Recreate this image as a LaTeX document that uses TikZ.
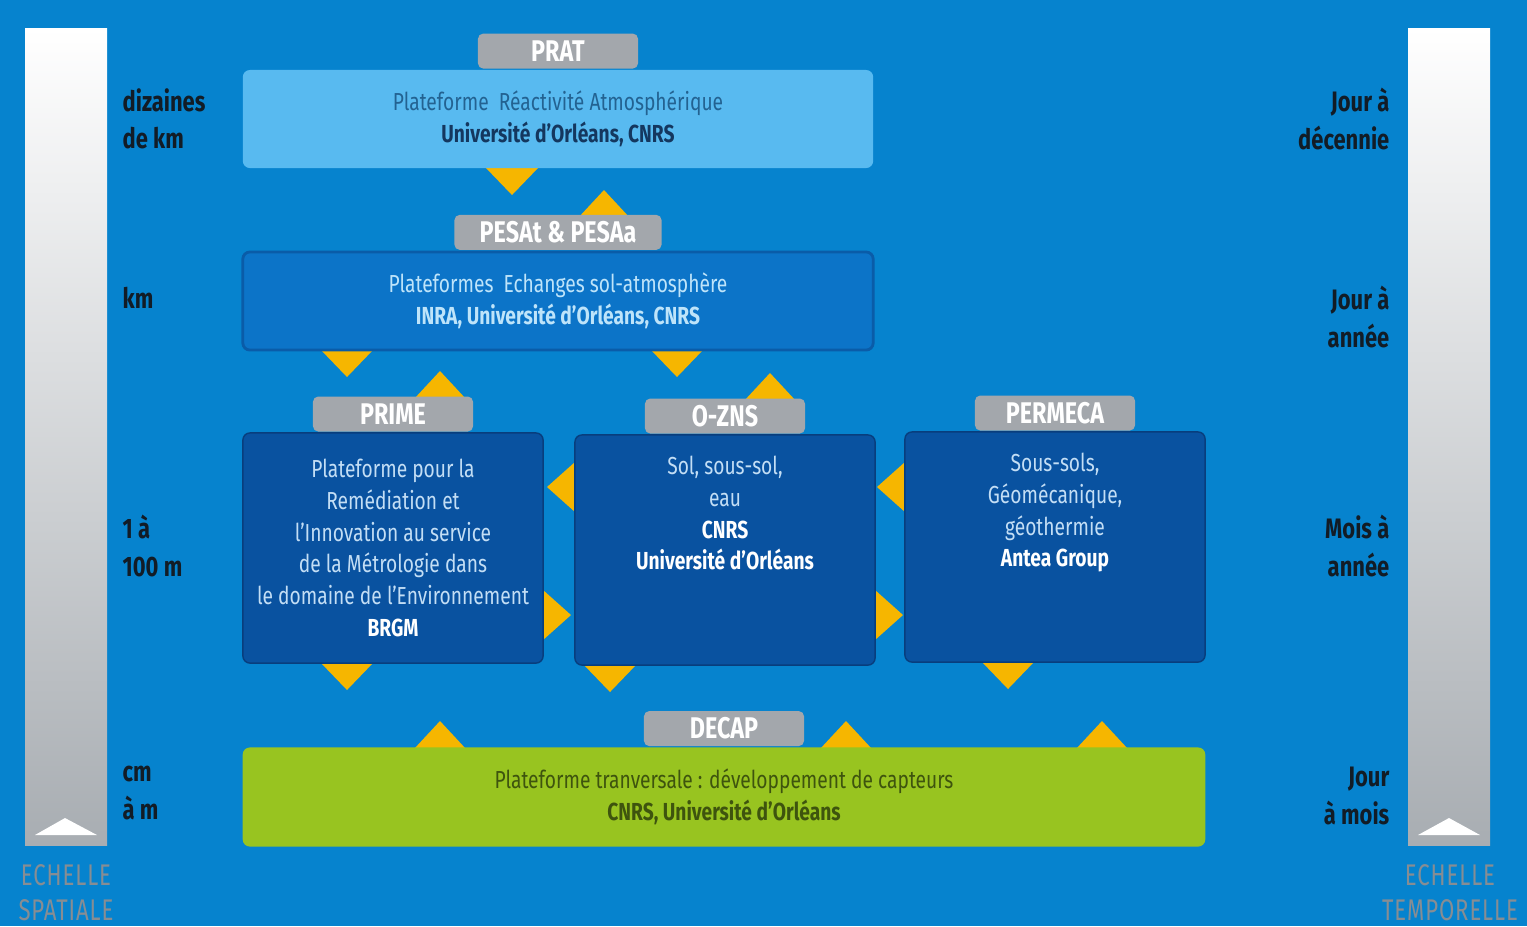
\documentclass[tikz,border=0pt]{standalone}
\usepackage{fontspec}
\setmainfont[FakeStretch=0.78]{Fira Sans}
\newfontfamily\echellefont[FakeStretch=0.74, LetterSpace=3]{Fira Sans}
\usetikzlibrary{positioning}

\definecolor{fond}{RGB}{6,131,206}
\definecolor{bleuclair}{RGB}{88,186,240}
\definecolor{bleumoyen}{RGB}{12,116,200}
\definecolor{bleutrait}{RGB}{10,92,168}
\definecolor{bleufonce}{RGB}{9,82,160}
\definecolor{bleunuit}{RGB}{8,62,125}
\definecolor{vert}{RGB}{152,196,32}
\definecolor{gris}{RGB}{163,167,172}
\definecolor{fleche}{RGB}{246,182,0}
\definecolor{barremid}{RGB}{225,229,234}
\definecolor{barregris}{RGB}{168,173,178}
\definecolor{grisechelle}{RGB}{135,141,147}
\definecolor{encre}{RGB}{18,28,38}
\definecolor{textprat}{RGB}{35,98,145}
\definecolor{textprat2}{RGB}{20,55,95}
\definecolor{textpesat}{RGB}{190,228,250}
\definecolor{textfonce}{RGB}{195,222,245}
\definecolor{textvert}{RGB}{62,84,14}

\newcommand{\textebox}{\fontsize{7}{9}\selectfont}
\newcommand{\texteonglet}{\fontsize{8.5}{9}\selectfont\bfseries}
\newcommand{\texteside}{\fontsize{8}{10.7}\selectfont\bfseries}

% petits triangles oranges
\newcommand{\flecheBas}[2]{\fill[tri] (#1-26,#2) -- (#1+26,#2) -- (#1,#2+27) -- cycle;}
\newcommand{\flecheHaut}[2]{\fill[tri] (#1-26,#2) -- (#1+26,#2) -- (#1,#2-28) -- cycle;}
\newcommand{\flecheGauche}[2]{\fill[tri] (#1,#2-25) -- (#1,#2+25) -- (#1-28,#2) -- cycle;}
\newcommand{\flecheDroite}[2]{\fill[tri] (#1,#2-25) -- (#1,#2+25) -- (#1+28,#2) -- cycle;}

\begin{document}
\begin{tikzpicture}[x=0.01cm, y=-0.01cm,
  boite/.style={rounded corners=2pt, align=center, inner sep=0pt, font=\textebox},
  onglet/.style={fill=gris, rounded corners=1.5pt, inner sep=0pt, minimum width=1.6cm,
    minimum height=0.35cm, font=\texteonglet, text=white},
  tri/.style={fill=fleche},
  gauche/.style={anchor=west, align=left, inner sep=0pt, font=\texteside, text=encre},
  droite/.style={anchor=east, align=right, inner sep=0pt, font=\texteside, text=encre},
  echelle/.style={align=center, inner sep=0pt, font=\fontsize{8.5}{10}\selectfont\echellefont,
    text=grisechelle}]

\fill[fond] (0,0) rectangle (1527,926);
\useasboundingbox (0,0) rectangle (1527,926);

% barres d'echelle
\shade[top color=white, middle color=barremid, bottom color=barregris] (25,28) rectangle (107,845);
\shade[top color=white, middle color=barremid, bottom color=barregris] (1408,28) rectangle (1490,845);
\fill[white] (35,835) -- (65,818) -- (97,835) -- cycle;
\fill[white] (1418,835) -- (1449,818) -- (1480,835) -- cycle;
\node[echelle] (spat) at (66,893) {ECHELLE\\SPATIALE};
\node[echelle] (temp) at (1450,893) {ECHELLE\\TEMPORELLE};

% etiquettes
\node[gauche] (l1) at (122,119) {dizaines\\de km};
\node[gauche] (l2) at (122,298) {km};
\node[gauche] (l3) at (122,546) {1 à\\100 m};
\node[gauche] (l4) at (122,793) {cm\\à m};
\node[droite] (r1) at (1390,119) {Jour à\\décennie};
\node[droite] (r2) at (1390,317) {Jour à\\année};
\node[droite] (r3) at (1390,546) {Mois à\\année};
\node[droite] (r4) at (1390,796) {Jour\\à mois};

% triangles
\flecheBas{512}{168}
\flecheHaut{604}{218}
\flecheBas{347}{350}
\flecheBas{677}{350}
\flecheHaut{440}{399}
\flecheHaut{770}{401}
\flecheGauche{575}{487}
\flecheDroite{543}{615}
\flecheGauche{905}{487}
\flecheDroite{875}{615}
\flecheBas{347}{663}
\flecheBas{610}{665}
\flecheBas{1008}{662}
\flecheHaut{440}{749}
\flecheHaut{846}{749}
\flecheHaut{1102}{749}

% plateformes
\node[boite, fill=bleuclair, minimum width=6.3cm, minimum height=0.98cm] (prat) at (558,119)
  {\textcolor{textprat}{Plateforme\ \ Réactivité Atmosphérique}\\
   \textcolor{textprat2}{\bfseries Université d'Orléans, CNRS}};
\node[boite, fill=bleumoyen, draw=bleutrait, line width=0.8pt, minimum width=6.3cm,
  minimum height=0.98cm, text=textpesat] (pesat) at (558,301)
  {Plateformes\ \ Echanges sol-atmosphère\\ {\bfseries INRA, Université d'Orléans, CNRS}};
\node[boite, fill=bleufonce, draw=bleunuit, minimum width=3cm, minimum height=2.3cm,
  text=textfonce] (prime) at (393,548)
  {Plateforme pour la\\ Remédiation et\\ l'Innovation au service\\ de la Métrologie dans\\
   le domaine de l'Environnement\\ \textcolor{white}{\bfseries BRGM}};
\node[boite, fill=bleufonce, draw=bleunuit, minimum width=3cm, minimum height=2.3cm,
  text depth=0.74cm, text=textfonce] (ozns) at (725,550)
  {Sol, sous-sol,\\ eau\\ \textcolor{white}{\bfseries CNRS}\\
   \textcolor{white}{\bfseries Université d'Orléans}};
\node[boite, fill=bleufonce, draw=bleunuit, minimum width=3cm, minimum height=2.3cm,
  text depth=0.74cm, text=textfonce] (permeca) at (1055,547)
  {Sous-sols,\\ Géomécanique,\\ géothermie\\ \textcolor{white}{\bfseries Antea Group}};
\node[boite, fill=vert, minimum width=9.62cm, minimum height=0.99cm, text=textvert] (decap) at (724,797)
  {Plateforme tranversale : développement de capteurs\\ {\bfseries CNRS, Université d'Orléans}};

% onglets
\node[onglet, above=0pt of prat] (tprat) {PRAT};
\node[onglet, above=0pt of pesat, minimum width=2.07cm] (tpesat) {PESAt \& PESAa};
\node[onglet, above=0pt of prime] (tprime) {PRIME};
\node[onglet, above=0pt of ozns] (tozns) {O-ZNS};
\node[onglet, above=0pt of permeca] (tpermeca) {PERMECA};
\node[onglet, above=0pt of decap] (tdecap) {DECAP};
\end{tikzpicture}
\end{document}
